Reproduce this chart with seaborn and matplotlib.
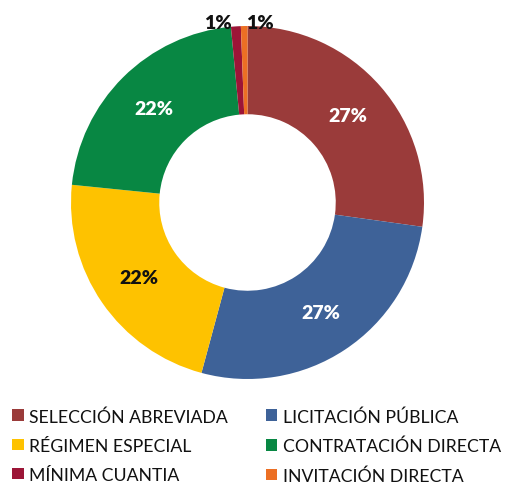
import matplotlib
matplotlib.use('Agg')
import matplotlib.pyplot as plt
import seaborn as sns

categorias = ['SELECCIÓN ABREVIADA', 'LICITACIÓN PÚBLICA', 'RÉGIMEN ESPECIAL',
              'CONTRATACIÓN DIRECTA', 'MÍNIMA CUANTIA', 'INVITACIÓN DIRECTA']
porcentajes = [27.2, 27.0, 22.4, 21.9, 0.9, 0.6]
colores = ['#9A3B3A', '#3E6298', '#FEC200', '#088743', '#9C1537', '#EC6F24']
color_texto = ['white', 'white', '#111111', 'white', '#111111', '#111111']

sns.set_theme(style='white')
plt.rcParams['font.family'] = ['Lato', 'DejaVu Sans']

fig = plt.figure(figsize=(5.06, 4.85), dpi=100)
ax = fig.add_axes([71 / 506, 105 / 485, 353 / 506, 353 / 485])

cunas, textos, autotextos = ax.pie(
    porcentajes, colors=colores, startangle=90, counterclock=False,
    radius=1.0, wedgeprops=dict(width=0.5, linewidth=0),
    autopct=lambda p: f'{p:.0f}%', pctdistance=0.75,
    textprops=dict(fontsize=14, fontweight='heavy'))

for t, c in zip(autotextos, color_texto):
    t.set_color(c)

# etiquetas pequeñas fuera del anillo, arriba
autotextos[4].set_position((-0.17, 1.02))
autotextos[5].set_position((0.07, 1.02))

ax.set_xlim(-1, 1)
ax.set_ylim(-1, 1)
ax.set_aspect('equal')
ax.axis('off')

orden = [0, 2, 4, 1, 3, 5]
leg = fig.legend([cunas[i] for i in orden], [categorias[i] for i in orden],
                 ncol=2, loc='upper left', bbox_to_anchor=(0.0, 0.182),
                 frameon=False, fontsize=12.7, handlelength=0.65, handleheight=0.65,
                 handletextpad=0.3, columnspacing=2.15, labelspacing=0.74,
                 borderaxespad=0.3)
for txt in leg.get_texts():
    txt.set_color('#111111')

fig.savefig('out.png', dpi=100)
